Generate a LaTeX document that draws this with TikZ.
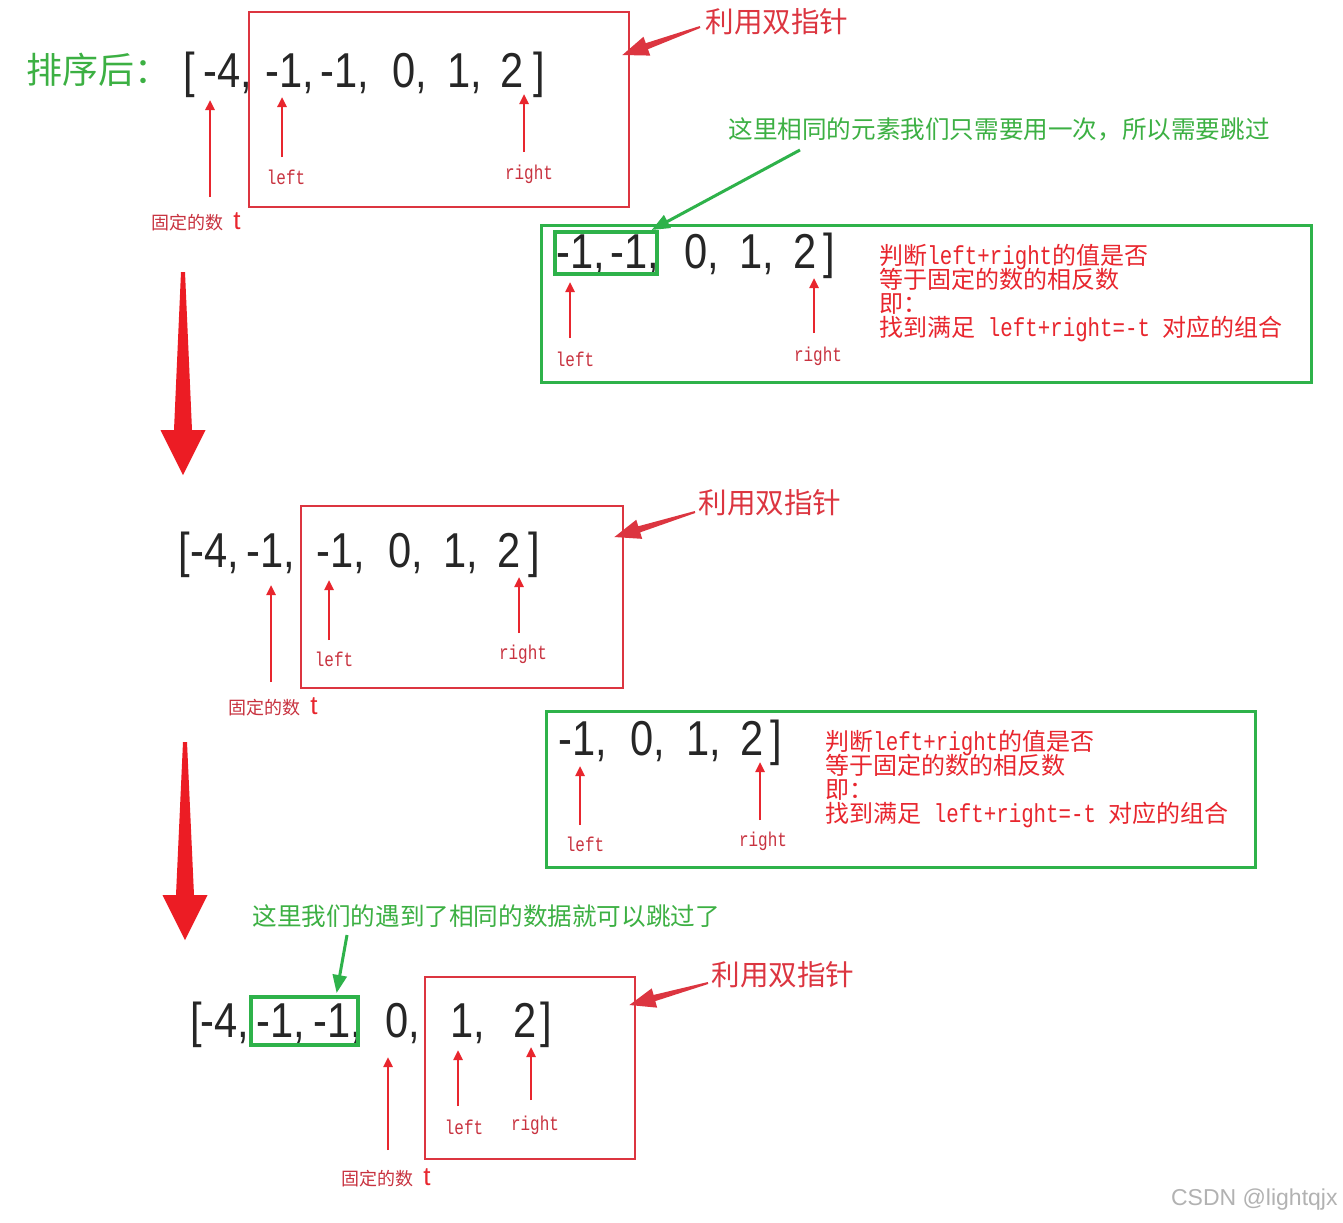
\documentclass[tikz,border=0pt]{standalone}
\usepackage{fontspec}
\setmainfont{Liberation Sans}
\newfontfamily\cjk{Noto Sans CJK SC}
\newfontfamily\numfont[FakeStretch=0.85]{Liberation Sans}
\newfontfamily\lblfont[FakeStretch=0.8]{Liberation Mono}
\usetikzlibrary{arrows.meta,calc,positioning}
\definecolor{boxred}{HTML}{DC3540}
\definecolor{txtred}{HTML}{E8262E}
\definecolor{lblred}{HTML}{C8323F}
\definecolor{bigred}{HTML}{EC1C24}
\definecolor{grn}{HTML}{2EB24A}
\definecolor{grntxt}{HTML}{3CB043}

% latin part inside the red notes
\newcommand\lat[1]{{\lblfont\fontsize{13}{12}\selectfont #1}}
% tapered arrow: start, tip, colour, start width, neck width, barb width, head length
\newcommand\taper[7]{%
  \coordinate (ta) at (#1);
  \coordinate (tb) at (#2);
  \coordinate (tm) at ($(tb)!#7!(ta)$);
  \fill[#3] ($(ta)!#4!90:(tb)$) -- ($(tm)!#5!90:(tb)$) -- ($(tm)!#6!90:(tb)$)
    -- (tb) -- ($(tm)!#6!-90:(tb)$) -- ($(tm)!#5!-90:(tb)$)
    -- ($(ta)!#4!-90:(tb)$) -- cycle;}

\begin{document}
\begin{tikzpicture}[
  x=0.5pt,y=-0.5pt,
  num/.style={font=\numfont\fontsize{24.5}{24.5}\selectfont,text=black!85,
              inner sep=0pt,anchor=base west},
  lbl/.style={font=\lblfont\fontsize{10}{10}\selectfont,text=lblred,
              inner sep=0pt,anchor=north},
  tlbl/.style={text=lblred,inner sep=0pt,anchor=north},
  ptr/.style={draw=txtred,line width=1.2pt,
              -{Triangle[length=5pt,width=4.5pt]}},
  gptr/.style={draw=grn,line width=1.5pt,
               -{Triangle[length=9pt,width=7pt]}},
  redbox/.style={draw=boxred,line width=1.2pt,anchor=north west,inner sep=0pt},
  grnbox/.style={draw=grn,line width=1.5pt,anchor=north west,inner sep=0pt},
  note/.style={font=\cjk\fontsize{12.3}{12.3}\selectfont,text=grntxt,
               inner sep=0pt,anchor=west},
  twin/.style={font=\cjk\fontsize{14.3}{14.3}\selectfont,text=boxred,
               inner sep=0pt,anchor=west},
  desc/.style={font=\cjk\fontsize{12}{12}\selectfont,
               execute at begin node={\lineskiplimit=-10pt},
               text=txtred,inner sep=0pt,anchor=north west,align=left}
]
\useasboundingbox[fill=white] (0,0) rectangle (1343,1222);

% first row
\node[font=\cjk\fontsize{18}{18}\selectfont,text=grntxt,inner sep=0pt,
      anchor=west] (sorted) at (26,70) {排序后：};
\node[num] (n1a) at (183,87) {[};
\node[num] (n1b) at (203,87) {-4,};
\node[num] (n1c) at (265,87) {-1,};
\node[num] (n1d) at (320,87) {-1,};
\node[num] (n1e) at (392,87) {0,};
\node[num] (n1f) at (447,87) {1,};
\node[num] (n1g) at (500,87) {2};
\node[num] (n1h) at (533,87) {]};
\node[redbox,minimum width=190pt,minimum height=97.5pt] (rb1) at (248,11) {};
\node[twin] (tw1) at (705,22) {利用双指针};
\node[tlbl] (t1) at (196,212) {{\cjk\fontsize{9}{9}\selectfont 固定的数}\hspace{5pt}%
  {\color{txtred}\fontsize{13}{13}\selectfont t}};
\node[lbl] (l1) at (286,170) {left};
\node[lbl] (r1) at (529,165) {right};

\node[note] (gt1) at (728,129) {这里相同的元素我们只需要用一次，所以需要跳过};
\node[num] (g1a) at (556,268) {-1,};
\node[num] (g1b) at (610,268) {-1,};
\node[num] (g1c) at (684,268) {0,};
\node[num] (g1d) at (739,268) {1,};
\node[num] (g1e) at (793,268) {2};
\node[num] (g1f) at (823,268) {]};
\node[grnbox,minimum width=385pt,minimum height=78.5pt] (gb1) at (540,224) {};
\node[grnbox,line width=1.8pt,minimum width=51pt,minimum height=21pt] (gs1) at (553,230) {};
\node[lbl] (l2) at (575,352) {left};
\node[lbl] (r2) at (818,347) {right};
\node[desc] (d1) at (879,244) {判断\lat{left+right}的值是否\\等于固定的数的相反数\\即：\\
  找到满足\lat{ left+right=-t }对应的组合};

% second row
\node[num] (n2a) at (178,567) {[};
\node[num] (n2b) at (190,567) {-4,};
\node[num] (n2c) at (246,567) {-1,};
\node[num] (n2d) at (316,567) {-1,};
\node[num] (n2e) at (388,567) {0,};
\node[num] (n2f) at (443,567) {1,};
\node[num] (n2g) at (497,567) {2};
\node[num] (n2h) at (528,567) {]};
\node[redbox,minimum width=161pt,minimum height=91pt] (rb2) at (300,505) {};
\node[twin] (tw2) at (698,503) {利用双指针};
\node[tlbl] (t3) at (273,697) {{\cjk\fontsize{9}{9}\selectfont 固定的数}\hspace{5pt}%
  {\color{txtred}\fontsize{13}{13}\selectfont t}};
\node[lbl] (l3) at (334,652) {left};
\node[lbl] (r3) at (523,645) {right};

\node[num] (g2a) at (558,755) {-1,};
\node[num] (g2b) at (630,755) {0,};
\node[num] (g2c) at (686,755) {1,};
\node[num] (g2d) at (740,755) {2};
\node[num] (g2e) at (770,755) {]};
\node[grnbox,minimum width=354.5pt,minimum height=78pt] (gb2) at (545,710) {};
\node[lbl] (l4) at (585,837) {left};
\node[lbl] (r4) at (763,832) {right};
\node[desc] (d2) at (825,730) {判断\lat{left+right}的值是否\\等于固定的数的相反数\\即：\\
  找到满足\lat{ left+right=-t }对应的组合};

% third row
\node[note] (gt3) at (252,916) {这里我们的遇到了相同的数据就可以跳过了};
\node[num] (n3a) at (190,1037) {[};
\node[num] (n3b) at (200,1037) {-4,};
\node[num] (n3c) at (256,1037) {-1,};
\node[num] (n3d) at (313,1037) {-1,};
\node[num] (n3e) at (385,1037) {0,};
\node[num] (n3f) at (450,1037) {1,};
\node[num] (n3g) at (513,1037) {2};
\node[num] (n3h) at (540,1037) {]};
\node[grnbox,line width=1.8pt,minimum width=53.5pt,minimum height=24pt] (gs3) at (249,995) {};
\node[redbox,minimum width=105pt,minimum height=91pt] (rb3) at (424,976) {};
\node[twin] (tw3) at (711,975) {利用双指针};
\node[tlbl] (t5) at (386,1168) {{\cjk\fontsize{9}{9}\selectfont 固定的数}\hspace{5pt}%
  {\color{txtred}\fontsize{13}{13}\selectfont t}};
\node[lbl] (l5) at (464,1120) {left};
\node[lbl] (r5) at (535,1116) {right};

\node[anchor=east,text=black!30,font=\fontsize{11.5}{11.5}\selectfont,
      inner sep=0pt] (wm) at (1338,1200) {CSDN @lightqjx};

\coordinate (bd1s) at (183,272);
\coordinate (bd1e) at (183,475);
\coordinate (bd2s) at (185,742);
\coordinate (bd2e) at (185,940);

% pointers
\draw[ptr,shorten <=7.5pt,shorten >=6.5pt] ([xshift=7pt]t1.north) -- ([xshift=7pt]t1.north |- n1b.base);
\draw[ptr,shorten <=6.5pt,shorten >=5pt] ([xshift=-2pt]l1.north) -- ([xshift=-2pt]l1.north |- n1c.base);
\draw[ptr,shorten <=6.5pt,shorten >=3.5pt] ([xshift=-2.5pt]r1.north) -- ([xshift=-2.5pt]r1.north |- n1g.base);
\draw[ptr,shorten <=7pt,shorten >=7pt] ([xshift=-2.5pt]l2.north) -- ([xshift=-2.5pt]l2.north |- g1a.base);
\draw[ptr,shorten <=7pt,shorten >=5pt] ([xshift=-2pt]r2.north) -- ([xshift=-2pt]r2.north |- g1e.base);
\draw[ptr,shorten <=7.5pt,shorten >=9pt] ([xshift=-1pt]t3.north) -- ([xshift=-1pt]t3.north |- n2c.base);
\draw[ptr,shorten <=6pt,shorten >=6.5pt] ([xshift=-2.5pt]l3.north) -- ([xshift=-2.5pt]l3.north |- n2d.base);
\draw[ptr,shorten <=6pt,shorten >=5pt] ([xshift=-2pt]r3.north) -- ([xshift=-2pt]r3.north |- n2g.base);
\draw[ptr,shorten <=6pt,shorten >=5.5pt] ([xshift=-2.5pt]l4.north) -- ([xshift=-2.5pt]l4.north |- g2a.base);
\draw[ptr,shorten <=6pt,shorten >=3.5pt] ([xshift=-1.5pt]r4.north) -- ([xshift=-1.5pt]r4.north |- g2d.base);
\draw[ptr,shorten <=9pt,shorten >=10pt] ([xshift=1pt]t5.north) -- ([xshift=1pt]t5.north |- n3e.base);
\draw[ptr,shorten <=7pt,shorten >=6.5pt] ([xshift=-3pt]l5.north) -- ([xshift=-3pt]l5.north |- n3f.base);
\draw[ptr,shorten <=8pt,shorten >=5pt] ([xshift=-2pt]r5.north) -- ([xshift=-2pt]r5.north |- n3g.base);

\draw[gptr] ([xshift=36pt,yshift=-10.5pt]gt1.west) -- ([xshift=-3.5pt]gs1.north east);
\draw[gptr] ([xshift=47.5pt,yshift=-9.5pt]gt3.west) -- ([xshift=-11.5pt,yshift=1pt]gs3.north east);

\taper{[xshift=-2.5pt,yshift=-2.5pt]tw1.west}{[xshift=-4pt,yshift=-22pt]rb1.north east}{boxred}{0.5pt}{1.6pt}{5pt}{13pt}
\taper{[xshift=-1.5pt,yshift=-4.5pt]tw2.west}{[xshift=-5pt,yshift=-16pt]rb2.north east}{boxred}{0.5pt}{1.6pt}{5pt}{13pt}
\taper{[xshift=-1.5pt,yshift=-4pt]tw3.west}{[xshift=-3.5pt,yshift=-14.5pt]rb3.north east}{boxred}{0.5pt}{1.6pt}{5pt}{13pt}

\taper{bd1s}{bd1e}{bigred}{1pt}{4.5pt}{11.25pt}{22.5pt}
\taper{bd2s}{bd2e}{bigred}{1pt}{4.5pt}{11.25pt}{22.5pt}
\end{tikzpicture}
\end{document}
